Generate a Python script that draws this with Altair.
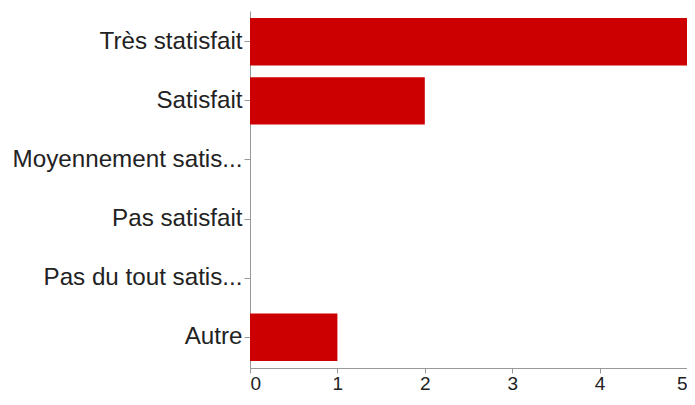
import altair as alt
import pandas as pd

categories = ["Très statisfait", "Satisfait", "Moyennement satis...", "Pas satisfait", "Pas du tout satis...", "Autre"]
counts = [5, 2, 0, 0, 0, 1]
x_ticks = [0, 1, 2, 3, 4, 5]

df = pd.DataFrame({"cat": categories, "n": counts})

chart = alt.Chart(df).mark_bar(color="#cc0000").encode(
    x=alt.X("n:Q", scale=alt.Scale(domain=[0, 5], nice=False),
            axis=alt.Axis(values=x_ticks, title=None, grid=False, format="d",
                          labelFontSize=19, labelColor="#222222", labelFont="Liberation Sans",
                          domainColor="#999999", tickColor="#999999", tickSize=5, labelPadding=1)),
    y=alt.Y("cat:N", sort=categories,
            scale=alt.Scale(paddingInner=0.2, paddingOuter=0.12),
            axis=alt.Axis(title=None, grid=False, labelFontSize=24.2, labelColor="#222222",
                          labelFont="Liberation Sans", labelLimit=300,
                          domainColor="#999999", tickColor="#999999", tickSize=6, labelPadding=2)),
).properties(
    width=437, height=357,
    autosize=alt.AutoSizeParams(type="none"),
    padding={"left": 242, "top": 3, "right": 0, "bottom": 29},
).configure_view(stroke=None)

chart.save("out.html", embed_options={"renderer": "svg", "actions": False})
